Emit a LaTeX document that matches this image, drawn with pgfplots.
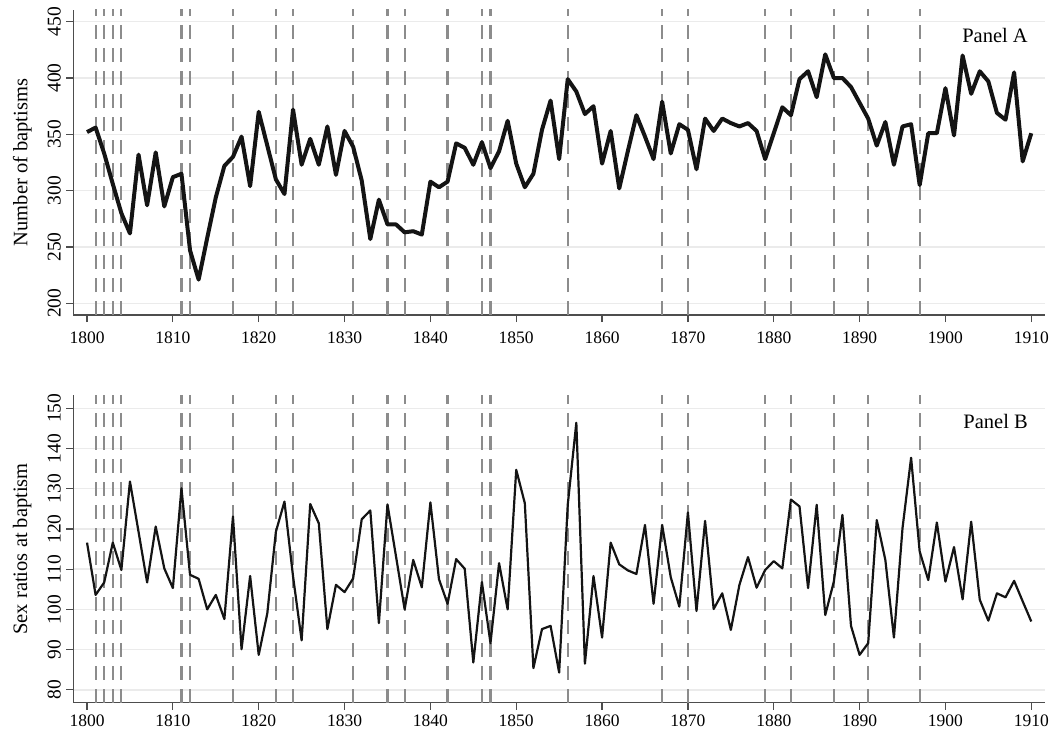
\documentclass[border=0pt]{standalone}
\usepackage{pgfplots}
\pgfplotsset{compat=1.18}
\usepackage{pgfplotstable}
\usepackage{fontspec}
\setmainfont{Liberation Serif}

\definecolor{gridgray}{HTML}{EBEBEB}
\definecolor{evgray}{HTML}{8C8C8C}
\definecolor{axgray}{HTML}{4D4D4D}

% Panel A: number of baptisms per year
\pgfplotstableread{
year n
1800 352
1801 356
1802 333
1803 306
1804 280
1805 262
1806 332
1807 287
1808 334
1809 286
1810 312
1811 315
1812 247
1813 221
1814 258
1815 294
1816 322
1817 330
1818 348
1819 304
1820 370
1821 340
1822 310
1823 297
1824 372
1825 323
1826 346
1827 323
1828 357
1829 314
1830 353
1831 339
1832 309
1833 257
1834 292
1835 270
1836 270
1837 263
1838 264
1839 261
1840 308
1841 303
1842 308
1843 342
1844 338
1845 323
1846 343
1847 320
1848 335
1849 362
1850 324
1851 303
1852 315
1853 354
1854 380
1855 328
1856 399
1857 388
1858 368
1859 375
1860 324
1861 353
1862 302
1863 335
1864 367
1865 348
1866 328
1867 379
1868 333
1869 359
1870 354
1871 319
1872 364
1873 353
1874 364
1875 360
1876 357
1877 360
1878 353
1879 328
1880 351
1881 374
1882 367
1883 399
1884 406
1885 383
1886 421
1887 400
1888 400
1889 392
1890 378
1891 364
1892 340
1893 361
1894 323
1895 357
1896 359
1897 305
1898 351
1899 351
1900 391
1901 349
1902 420
1903 386
1904 406
1905 397
1906 369
1907 363
1908 405
1909 326
1910 351
}\baptisms

% Panel B: sex ratio at baptism
\pgfplotstableread{
year r
1800 116.6
1801 103.6
1802 106.7
1803 116.6
1804 109.8
1805 131.8
1806 119.3
1807 106.7
1808 120.6
1809 110.2
1810 105.3
1811 130.1
1812 108.6
1813 107.6
1814 100.0
1815 103.6
1816 97.6
1817 123.1
1818 90.1
1819 108.3
1820 88.7
1821 99.0
1822 119.3
1823 126.8
1824 108.2
1825 92.3
1826 126.2
1827 121.4
1828 95.1
1829 106.1
1830 104.3
1831 107.7
1832 122.4
1833 124.6
1834 96.6
1835 126.1
1836 113.1
1837 100.0
1838 112.3
1839 105.5
1840 126.6
1841 107.5
1842 101.4
1843 112.5
1844 110.1
1845 86.8
1846 106.8
1847 91.6
1848 111.5
1849 100.0
1850 134.7
1851 126.4
1852 85.4
1853 95.1
1854 95.9
1855 84.3
1856 126.0
1857 146.4
1858 86.5
1859 108.3
1860 93.0
1861 116.6
1862 111.2
1863 109.7
1864 108.8
1865 121.0
1866 101.4
1867 121.0
1868 108.0
1869 100.7
1870 124.1
1871 99.6
1872 122.0
1873 100.1
1874 104.0
1875 94.9
1876 106.1
1877 113.0
1878 105.4
1879 109.8
1880 112.0
1881 110.2
1882 127.3
1883 125.6
1884 105.3
1885 126.0
1886 98.6
1887 106.9
1888 123.5
1889 95.9
1890 88.7
1891 91.6
1892 122.2
1893 112.3
1894 93.0
1895 120.2
1896 137.7
1897 114.4
1898 107.3
1899 121.6
1900 106.9
1901 115.5
1902 102.5
1903 121.8
1904 102.4
1905 97.2
1906 104.0
1907 103.0
1908 107.1
1909 102.0
1910 97.0
}\sexratio

% years marked with dashed lines (comb height above both panels, clipped)
\pgfplotstableread{
year top
1801 1000
1802 1000
1803 1000
1804 1000
1811 1000
1812 1000
1817 1000
1822 1000
1824 1000
1831 1000
1835 1000
1837 1000
1842 1000
1846 1000
1847 1000
1856 1000
1867 1000
1870 1000
1879 1000
1882 1000
1887 1000
1891 1000
1897 1000
}\events

\newcommand{\xtickfont}{\fontsize{17.5}{19}\selectfont}
\newcommand{\ytickfont}{\fontsize{19.5}{21}\selectfont}
\newcommand{\labfont}{\fontsize{20.5}{23}\selectfont}

\pgfplotsset{
  panel/.style={
    scale only axis, width=971.7pt,
    xmin=1798.4, xmax=1911.6,
    axis x line=bottom, axis y line=left,
    axis line style={axgray, line width=1.2pt, -},
    tick style={axgray, line width=1.2pt},
    tick align=outside, major tick length=7pt,
    xtick={1800,1810,...,1910},
    ymajorgrids, grid style={gridgray, line width=1.4pt},
    /pgf/number format/assume math mode=true,
    /pgf/number format/1000 sep={},
    xticklabel style={font=\xtickfont},
    yticklabel style={font=\ytickfont, rotate=90, anchor=south, yshift=2pt},
    ylabel style={font=\labfont, at={(axis description cs:0,0.5)}, anchor=center, yshift=51pt},
  },
  events/.style={ycomb, evgray, line width=2.2pt, dash pattern=on 14pt off 9pt, forget plot},
}

\begin{document}
\begin{tikzpicture}
\path (-73.3pt,315pt) rectangle (982.7pt,-422pt);

\begin{axis}[panel, at={(0,0)}, anchor=south west, height=305pt,
    ymin=189.6, ymax=460.4, ytick={200,250,300,350,400,450},
    xticklabel style={yshift=-6pt},
    ylabel={Number of baptisms}]
  \addplot[events] table[x=year, y=top] {\events};
  \addplot[black!92, line width=4pt, line join=round] table[x=year, y=n] {\baptisms};
  \node[anchor=east, font=\labfont] at (axis cs:1910,438) {Panel A};
\end{axis}

\begin{axis}[panel, at={(0,-387.7pt)}, anchor=south west, height=307.7pt,
    ymin=76.8, ymax=153.3, ytick={80,90,100,110,120,130,140,150},
    xticklabel style={yshift=-2pt},
    ylabel={Sex ratios at baptism}]
  \addplot[events] table[x=year, y=top] {\events};
  \addplot[black!92, line width=2.2pt, line join=round] table[x=year, y=r] {\sexratio};
  \node[anchor=east, font=\labfont] at (axis cs:1910,146.8) {Panel B};
\end{axis}
\end{tikzpicture}
\end{document}
